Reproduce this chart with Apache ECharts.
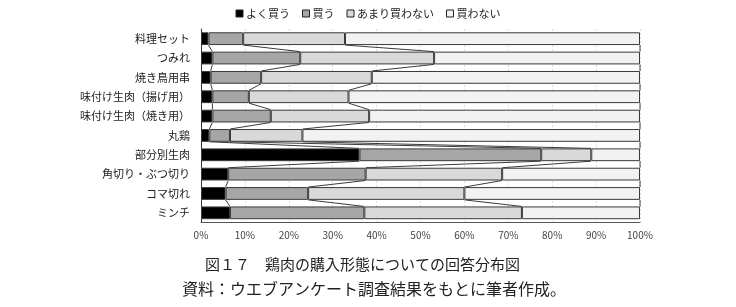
<!DOCTYPE html>
<html><head><meta charset="utf-8">
<script src="https://cdn.jsdelivr.net/npm/echarts@6/dist/echarts.min.js"></script>
<style>html,body{margin:0;padding:0;background:#fff}#c{width:736px;height:307px}</style>
</head><body><div id="c"></div>
<script>
const categories = ['料理セット','つみれ','焼き鳥用串','味付け生肉（揚げ用）','味付け生肉（焼き用）','丸鶏','部分別生肉','角切り・ぶつ切り','コマ切れ','ミンチ'];
const seriesNames = ['よく買う','買う','あまり買わない','買わない'];
const buyOften = [1.7, 2.6, 2.2, 2.6, 2.6, 1.9, 36.1, 6.2, 5.6, 6.6];
const buy = [7.9, 20.0, 11.5, 8.3, 13.3, 4.7, 41.4, 31.3, 18.8, 30.6];
const rarelyBuy = [23.2, 30.5, 25.2, 22.7, 22.4, 16.5, 11.4, 31.1, 35.6, 35.9];
const notBuy = [67.2, 46.9, 61.1, 66.4, 61.7, 76.9, 11.1, 31.4, 40.0, 26.9];
const xTicks = ['0%','10%','20%','30%','40%','50%','60%','70%','80%','90%','100%'];
const caption1 = '図１７　鶏肉の購入形態についての回答分布図';
const caption2 = '資料：ウエブアンケート調査結果をもとに筆者作成。';

const colors = ['#000000','#a6a6a6','#d9d9d9','#f2f2f2'];
const allVals = [buyOften, buy, rarelyBuy, notBuy];
const cum = allVals.map((arr, k) => arr.map((v, i) => {
  let s = 0; for (let j = 0; j <= k; j++) s += allVals[j][i]; return s;
}));
const gapRatio = 0.34;
const fontJP = '"Noto Sans CJK JP", sans-serif';

const chart = echarts.init(document.getElementById('c'));
const barSeries = allVals.map((arr, k) => ({
  name: seriesNames[k], type: 'bar', stack: 'total', data: arr,
  barCategoryGap: (gapRatio*100)+'%',
  itemStyle: { color: colors[k], borderColor: '#3a3a3a', borderWidth: 1 },
  z: 3
}));
const lineSeries = {
  type: 'custom', z: 4, silent: true,
  data: categories.slice(0, -1).map((c, i) => [i]),
  renderItem: function (params, api) {
    const i = api.value(0);
    const band = api.size([0, 1])[1];
    const half = band * (1 - gapRatio) / 2;
    const children = [];
    for (let k = 0; k < cum.length; k++) {
      const p1 = api.coord([cum[k][i], i]);
      const p2 = api.coord([cum[k][i+1], i+1]);
      children.push({ type: 'line', shape: { x1: p1[0], y1: p1[1] + half, x2: p2[0], y2: p2[1] - half },
        style: { stroke: '#3a3a3a', lineWidth: 1 } });
    }
    return { type: 'group', children: children };
  }
};
chart.setOption({
  animation: false,
  textStyle: { fontFamily: fontJP },
  legend: {
    data: seriesNames, top: 3, left: 'center', itemWidth: 7, itemHeight: 7, itemGap: 12,
    icon: 'rect', textStyle: { fontSize: 11, color: '#222', padding: [0,0,0,-2] },
    itemStyle: { borderColor: '#222', borderWidth: 1 }
  },
  grid: { left: 201, width: 439, top: 29, height: 193.5, containLabel: false },
  xAxis: {
    type: 'value', min: 0, max: 100, interval: 10,
    axisLine: { show: true, lineStyle: { color: '#555' } },
    axisTick: { show: false },
    axisLabel: { formatter: v => xTicks[Math.round(v/10)], fontSize: 10, color: '#444', margin: 8 },
    splitLine: { show: true, lineStyle: { color: '#dcdcdc', type: [2, 2] } }
  },
  yAxis: {
    type: 'category', data: categories, inverse: true,
    axisLine: { show: true, lineStyle: { color: '#333' } },
    axisTick: { show: false },
    axisLabel: { fontSize: 11, color: '#222', margin: 11 }
  },
  series: barSeries.concat([lineSeries]),
  graphic: [
    { type: 'text', left: 205, top: 257, style: { text: caption1, font: '15px "Noto Sans CJK JP"', fill: '#222' } },
    { type: 'text', left: 182, top: 281, style: { text: caption2, font: '16px "Noto Sans CJK JP"', fill: '#222' } }
  ]
});
</script></body></html>
